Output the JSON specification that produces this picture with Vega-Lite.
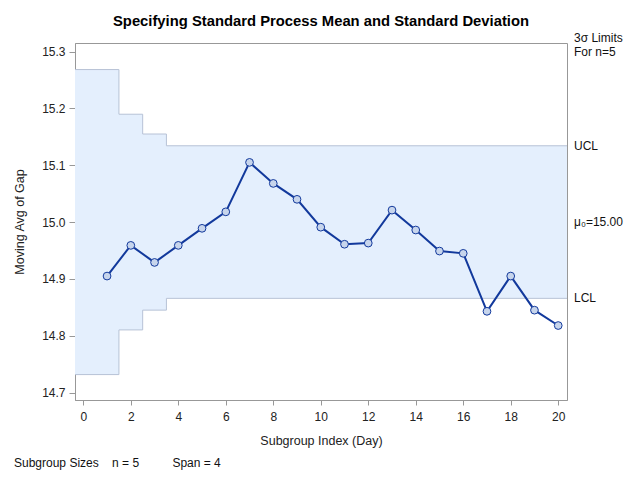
{
  "$schema": "https://vega.github.io/schema/vega-lite/v6.json",
  "width": 492,
  "height": 357,
  "autosize": {"type": "none"},
  "padding": {"left": 75, "top": 43, "right": 73, "bottom": 80},
  "background": "white",
  "title": {
    "text": "Specifying Standard Process Mean and Standard Deviation",
    "font": "Liberation Sans",
    "fontSize": 14.8,
    "fontWeight": "bold",
    "color": "#000000",
    "anchor": "middle",
    "offset": 3
  },
  "config": {
    "font": "Liberation Sans",
    "view": {"stroke": "#989898", "strokeWidth": 1},
    "axis": {
      "domainColor": "#989898",
      "tickColor": "#989898",
      "labelFont": "Liberation Sans",
      "labelFontSize": 12,
      "labelColor": "#222222",
      "titleFont": "Liberation Sans",
      "titleFontSize": 12.5,
      "titleFontWeight": "normal",
      "titleColor": "#222222",
      "grid": false
    }
  },
  "datasets": {
    "limits": [
      {"x": -0.35, "ucl": 15.2683, "lcl": 14.7317},
      {"x": 1.5, "ucl": 15.1897, "lcl": 14.8103},
      {"x": 2.5, "ucl": 15.1549, "lcl": 14.8451},
      {"x": 3.5, "ucl": 15.1342, "lcl": 14.8658},
      {"x": 20.37, "ucl": 15.1342, "lcl": 14.8658}
    ],
    "series": [
      {"day": 1, "avg": 14.905},
      {"day": 2, "avg": 14.959},
      {"day": 3, "avg": 14.929},
      {"day": 4, "avg": 14.959},
      {"day": 5, "avg": 14.989},
      {"day": 6, "avg": 15.018},
      {"day": 7, "avg": 15.105},
      {"day": 8, "avg": 15.068},
      {"day": 9, "avg": 15.040},
      {"day": 10, "avg": 14.991},
      {"day": 11, "avg": 14.961},
      {"day": 12, "avg": 14.963},
      {"day": 13, "avg": 15.021},
      {"day": 14, "avg": 14.986},
      {"day": 15, "avg": 14.949},
      {"day": 16, "avg": 14.945},
      {"day": 17, "avg": 14.843},
      {"day": 18, "avg": 14.905},
      {"day": 19, "avg": 14.845},
      {"day": 20, "avg": 14.818}
    ],
    "labels": [
      {"label": "UCL", "y": 15.1342},
      {"label": "μ₀=15.00", "y": 15.0},
      {"label": "LCL", "y": 14.8658}
    ]
  },
  "layer": [
    {
      "data": {"name": "limits"},
      "mark": {"type": "area", "interpolate": "step-after", "fill": "#E4EFFD", "clip": true},
      "encoding": {
        "x": {
          "field": "x", "type": "quantitative",
          "scale": {"domain": [-0.35, 20.37], "nice": false, "zero": false},
          "axis": {
            "values": [0, 2, 4, 6, 8, 10, 12, 14, 16, 18, 20],
            "title": "Subgroup Index (Day)",
            "tickSize": 5,
            "labelPadding": 6,
            "titlePadding": 12
          }
        },
        "y": {
          "field": "ucl", "type": "quantitative",
          "scale": {"domain": [14.687, 15.315], "nice": false, "zero": false},
          "axis": {
            "values": [14.7, 14.8, 14.9, 15.0, 15.1, 15.2, 15.3],
            "format": ".1f",
            "title": "Moving Avg of Gap",
            "tickSize": 6,
            "labelPadding": 4,
            "titlePadding": 15
          }
        },
        "y2": {"field": "lcl"}
      }
    },
    {
      "data": {"name": "limits"},
      "mark": {"type": "line", "interpolate": "step-after", "color": "#B7C2D6", "strokeWidth": 1, "clip": true},
      "encoding": {
        "x": {"field": "x", "type": "quantitative"},
        "y": {"field": "ucl", "type": "quantitative"}
      }
    },
    {
      "data": {"name": "limits"},
      "mark": {"type": "line", "interpolate": "step-after", "color": "#B7C2D6", "strokeWidth": 1, "clip": true},
      "encoding": {
        "x": {"field": "x", "type": "quantitative"},
        "y": {"field": "lcl", "type": "quantitative"}
      }
    },
    {
      "mark": {"type": "rule", "color": "#B7C2D6", "strokeWidth": 1},
      "encoding": {"y": {"datum": 15.0}}
    },
    {
      "data": {"name": "series"},
      "mark": {
        "type": "line",
        "color": "#12399C",
        "strokeWidth": 2,
        "point": {"filled": true, "fill": "#C7D5EC", "stroke": "#12399C", "strokeWidth": 1, "size": 60, "opacity": 1}
      },
      "encoding": {
        "x": {"field": "day", "type": "quantitative"},
        "y": {"field": "avg", "type": "quantitative"}
      }
    },
    {
      "data": {"name": "labels"},
      "mark": {"type": "text", "align": "left", "baseline": "middle", "dx": 7, "fontSize": 12, "color": "#111111"},
      "encoding": {
        "x": {"datum": 20.37},
        "y": {"field": "y", "type": "quantitative"},
        "text": {"field": "label"}
      }
    },
    {
      "data": {"values": [{"t": "3σ Limits", "o": 0}, {"t": "For n=5", "o": 1}]},
      "mark": {"type": "text", "align": "left", "baseline": "middle", "dx": 7, "fontSize": 12, "color": "#111111"},
      "encoding": {
        "x": {"datum": 20.37},
        "y": {"datum": 15.315},
        "yOffset": {"field": "o", "type": "quantitative", "scale": {"domain": [0, 1], "range": [-5, 9]}},
        "text": {"field": "t"}
      }
    },
    {
      "data": {"values": [{"t": "Subgroup Sizes\u00a0\u00a0\u00a0\u00a0n = 5\u00a0\u00a0\u00a0\u00a0\u00a0\u00a0\u00a0\u00a0\u00a0\u00a0Span = 4"}]},
      "mark": {"type": "text", "align": "left", "baseline": "middle", "dx": -61, "dy": 63, "fontSize": 12, "color": "#111111"},
      "encoding": {
        "x": {"datum": -0.35},
        "y": {"datum": 14.687},
        "text": {"field": "t"}
      }
    }
  ]
}
